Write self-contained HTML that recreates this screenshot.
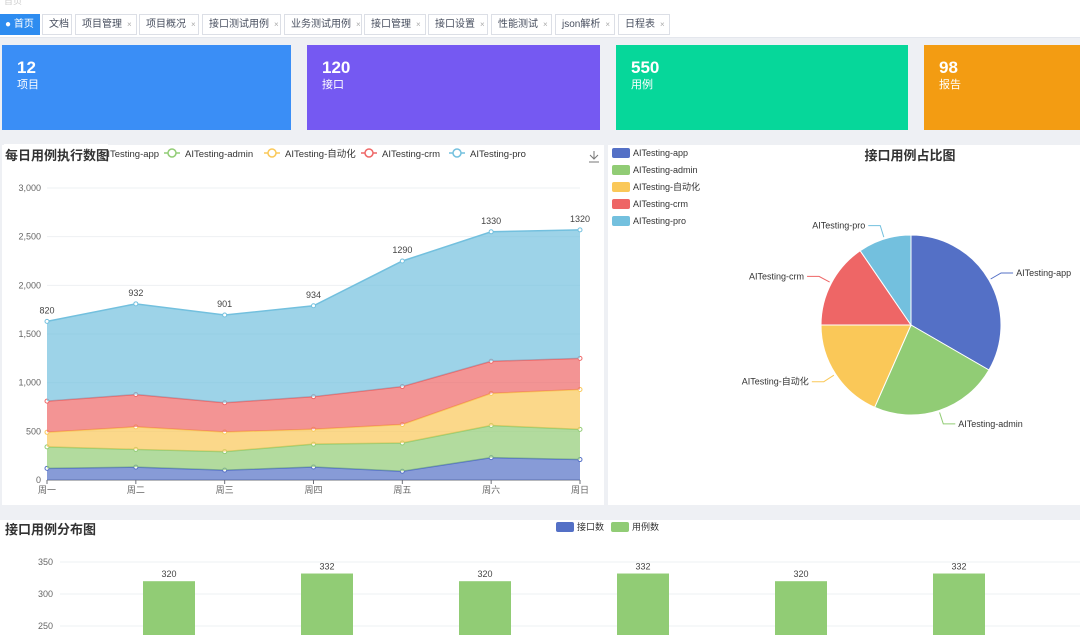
<!DOCTYPE html>
<html><head><meta charset="utf-8">
<style>
*{box-sizing:border-box;margin:0;padding:0}
body{width:1080px;height:635px;overflow:hidden;background:#eef0f4;font-family:"Liberation Sans","Noto Sans CJK SC",sans-serif;position:relative}
.abs{position:absolute}
.tab{position:absolute;top:14px;height:21px;border:1px solid #dcdfe6;background:#fff;font-size:10px;color:#495060;line-height:19px;padding-left:6px;white-space:nowrap}
.tab .x{color:#aaa;font-size:8px;margin-left:5px}
.card{position:absolute;top:45px;height:85px;color:#fff}
.card b{position:absolute;left:15px;top:13px;font-size:17px}
.card span{position:absolute;left:15px;top:31px;font-size:11px}
.panel{position:absolute;background:#fff}
</style></head><body>
<div class="abs" style="left:0;top:0;width:1080px;height:38px;background:#fff;border-bottom:1px solid #e4e7ed"></div>
<div class="abs" style="left:4px;top:-6px;font-size:9px;color:#ccc">首页</div>
<div id="tabs"></div>
<div class="card" style="left:2px;width:289px;background:#3a8ef6"><b>12</b><span>项目</span></div>
<div class="card" style="left:307px;width:293px;background:#7559f2"><b>120</b><span>接口</span></div>
<div class="card" style="left:616px;width:292px;background:#06d79a"><b>550</b><span>用例</span></div>
<div class="card" style="left:924px;width:156px;background:#f39c12"><b>98</b><span>报告</span></div>
<div class="panel" style="left:2px;top:145px;width:602px;height:360px"></div>
<div class="panel" style="left:608px;top:145px;width:472px;height:360px"></div>
<div class="panel" style="left:0;top:520px;width:1080px;height:115px"></div>
<svg class="abs" style="left:0;top:0" width="1080" height="635" id="svg" font-family="Liberation Sans, Noto Sans CJK SC, sans-serif"></svg>
<script>
const tabNames=['首页','文档','项目管理','项目概况','接口测试用例','业务测试用例','接口管理','接口设置','性能测试','json解析','日程表'];
const days=['周一','周二','周三','周四','周五','周六','周日'];
const seriesNames=['AITesting-app','AITesting-admin','AITesting-自动化','AITesting-crm','AITesting-pro'];
const appVals=[120,132,101,134,90,230,210];
const adminVals=[220,182,191,234,290,330,310];
const autoVals=[150,232,201,154,190,330,410];
const crmVals=[320,332,301,334,390,330,320];
const proVals=[820,932,901,934,1290,1330,1320];
const yTicks=[0,500,1000,1500,2000,2500,3000];
const pieVals=[335,234,185,155,96];
const barCats=['c1','c2','c3','c4','c5','c6'];
const ifaceVals=[30,32,30,32,30,32];
const caseVals=[320,332,320,332,320,332];
const barTicks=[250,300,350];

const tabPos=[[0,40],[42,72],[75,137],[139,199],[202,281],[284,362],[364,426],[428,488],[491,552],[555,615],[618,670]];
const tabs=document.getElementById('tabs');
tabNames.forEach((n,i)=>{const d=document.createElement('div');d.className='tab';


d.style.left=tabPos[i][0]+'px';d.style.width=(tabPos[i][1]-tabPos[i][0])+'px';
if(i==0){d.style.background='#2d8cf0';d.style.color='#fff';d.style.borderColor='#2d8cf0';d.innerHTML='● '+n;d.style.paddingLeft='4px';}
else d.innerHTML=n+(i>1?'<span class="x">×</span>':'');
tabs.appendChild(d);});

const svg=document.getElementById('svg');const NS='http://www.w3.org/2000/svg';
function el(t,a,txt){const e=document.createElementNS(NS,t);for(const k in a)e.setAttribute(k,a[k]);if(txt!=null)e.textContent=txt;svg.appendChild(e);return e;}
const colors=['#5470c6','#91cc75','#fac858','#ee6666','#73c0de'];
const X0=47,X1=580,Y0=480,Y1=188;
const xs=i=>X0+(X1-X0)*i/(days.length-1);
const ys=v=>Y0-(Y0-Y1)*v/3000;
yTicks.forEach(t=>{const l=el('line',{x1:X0,x2:X1,y1:ys(t),y2:ys(t),stroke:'#eef0f3'});
const tx=el('text',{x:41,y:ys(t)+3,'font-size':9,fill:'#666','text-anchor':'end'},t.toLocaleString('en-US'));});
el('line',{x1:X0,x2:X1,y1:Y0,y2:Y0,stroke:'#6e7079'});
days.forEach((d,i)=>{el('line',{x1:xs(i),x2:xs(i),y1:Y0,y2:Y0+4,stroke:'#6e7079'});
const t=el('text',{x:xs(i),y:Y0+13,'font-size':9,fill:'#666','text-anchor':'middle'},d);});
const all=[appVals,adminVals,autoVals,crmVals,proVals];
let base=days.map(()=>0);
all.forEach((vals,s)=>{const top=vals.map((v,i)=>base[i]+v);
let d='M'+top.map((v,i)=>xs(i)+','+ys(v)).join('L');
for(let i=days.length-1;i>=0;i--)d+='L'+xs(i)+','+ys(base[i]);
const a=el('path',{d:d+'Z',fill:colors[s],opacity:0.7});
const ln=el('polyline',{points:top.map((v,i)=>xs(i)+','+ys(v)).join(' '),fill:'none',stroke:colors[s],'stroke-width':1.5});
top.forEach((v,i)=>{const c=el('circle',{cx:xs(i),cy:ys(v),r:2,fill:'#fff',stroke:colors[s]});
if(s==4){const t=el('text',{x:xs(i),y:ys(v)-8,'font-size':9,fill:'#444','text-anchor':'middle'},vals[i]);}});
base=top;});
const lgx=[88,172,272,369,457];
seriesNames.forEach((n,i)=>{const x=lgx[i];el('line',{x1:x-8,x2:x+8,y1:153,y2:153,stroke:colors[i],'stroke-width':1.5});el('circle',{cx:x,cy:153,r:4,fill:'#fff',stroke:colors[i],'stroke-width':1.5});
const t=el('text',{x:x+13,y:157,'font-size':9.5,fill:'#333'},n);});
el('rect',{x:4,y:144,width:104,height:20,fill:'#fff'});
const t1=el('text',{x:5,y:160,'font-size':13,'font-weight':'bold',fill:'#333'},'每日用例执行数图');
const dl=el('path',{d:'M594 151v8M590 155l4 4 4-4M589 162h10',stroke:'#777',fill:'none'});
const t2=el('text',{x:910,y:160,'font-size':13,'font-weight':'bold',fill:'#333','text-anchor':'middle'},'接口用例占比图');
seriesNames.forEach((n,i)=>{const y=153+i*17;el('rect',{x:612,y:y-5,width:18,height:10,rx:2,fill:colors[i]});
const t=el('text',{x:633,y:y+3,'font-size':9,fill:'#333'},n);});
const cx=911,cy=325,R=90;const sum=pieVals.reduce((a,b)=>a+b,0);let ang=0;
pieVals.forEach((v,i)=>{const a0=ang,a1=ang+v/sum*2*Math.PI;ang=a1;
const p=a=>[cx+R*Math.sin(a),cy-R*Math.cos(a)];const [x0,y0]=p(a0),[x1,y1]=p(a1);
const s=el('path',{d:`M${cx},${cy}L${x0},${y0}A${R},${R} 0 ${a1-a0>Math.PI?1:0} 1 ${x1},${y1}Z`,fill:colors[i],stroke:'#fff','stroke-width':1});
const m=(a0+a1)/2,sx=Math.sin(m),sy=-Math.cos(m);const e1=[cx+(R+2)*sx,cy+(R+2)*sy],e2=[cx+(R+14)*sx,cy+(R+14)*sy];const right=sx>=0;const e3=[e2[0]+(right?12:-12),e2[1]];
el('polyline',{points:[e1,e2,e3].map(q=>q.join(',')).join(' '),fill:'none',stroke:colors[i]});
const t=el('text',{x:e3[0]+(right?3:-3),y:e3[1]+3,'font-size':9,fill:'#333','text-anchor':right?'start':'end'},seriesNames[i]);});
const t3=el('text',{x:5,y:534,'font-size':13,'font-weight':'bold',fill:'#333'},'接口用例分布图');
[['接口数',colors[0],556],['用例数',colors[1],611]].forEach(([n,c,x])=>{el('rect',{x:x,y:522,width:18,height:10,rx:2,fill:c});const t=el('text',{x:x+21,y:530,'font-size':9,fill:'#333'},n);});
const by=v=>562+(350-v)*0.64;const bx=i=>169+i*158;
barTicks.forEach(t=>{el('line',{x1:60,x2:1080,y1:by(t),y2:by(t),stroke:'#eef0f3'});const tx=el('text',{x:53,y:by(t)+3,'font-size':9,fill:'#666','text-anchor':'end'},t);});
barCats.forEach((c,i)=>{const r=el('rect',{x:bx(i)-26,y:by(caseVals[i]),width:52,height:Math.max(0,635-by(caseVals[i])),fill:'#91cc75'});
const ib=by(ifaceVals[i]);if(ib<635){const b=el('rect',{x:bx(i)-80,y:ib,width:52,height:635-ib,fill:colors[0]});}
const t=el('text',{x:bx(i),y:by(caseVals[i])-4,'font-size':9,fill:'#444','text-anchor':'middle'},caseVals[i]);});
</script>
</body></html>
